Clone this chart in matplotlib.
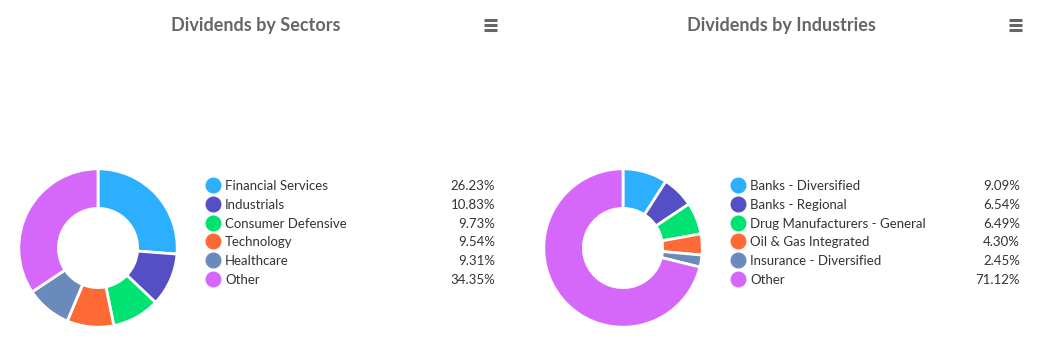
import matplotlib.pyplot as plt
from matplotlib.lines import Line2D

W, H = 1043, 358

sector_labels = ["Financial Services", "Industrials", "Consumer Defensive",
                 "Technology", "Healthcare", "Other"]
sector_values = [26.23, 10.83, 9.73, 9.54, 9.31, 34.35]

industry_labels = ["Banks - Diversified", "Banks - Regional",
                   "Drug Manufacturers - General", "Oil & Gas Integrated",
                   "Insurance - Diversified", "Other"]
industry_values = [9.09, 6.54, 6.49, 4.30, 2.45, 71.12]

colors = ["#2caffe", "#544fc5", "#00e272", "#fe6a35", "#6b8abc", "#d568fb"]

plt.rcParams['font.family'] = ['Lato', 'DejaVu Sans']

fig = plt.figure(figsize=(W / 100, H / 100), dpi=100)


def fx(x):
    return x / W


def fy(y):
    return 1 - y / H


def panel(x0, title, labels, values):
    # donut
    cx, cy, r = x0 + 98, 248, 80
    ax = fig.add_axes([fx(cx - r), fy(cy + r), 2 * r / W, 2 * r / H])
    ax.pie(values, colors=colors, startangle=90, counterclock=False,
           wedgeprops=dict(width=0.5, edgecolor="white", linewidth=2))
    ax.set_xlim(-1.01, 1.01)
    ax.set_ylim(-1.01, 1.01)
    ax.set_aspect("equal")
    ax.axis("off")

    # title and menu icon
    fig.text(fx(x0 + 256), fy(25.5), title, ha="center", va="center",
             fontsize=13, fontweight="bold", color="#666666")
    for dy in (-5, 0, 5):
        fig.add_artist(Line2D([fx(x0 + 484), fx(x0 + 497)],
                              [fy(25 + dy), fy(25 + dy)],
                              color="#666666", linewidth=2.2,
                              solid_capstyle="butt"))

    # legend
    for i, (lab, val) in enumerate(zip(labels, values)):
        y = 185 + i * 18.8
        fig.add_artist(Line2D([fx(x0 + 213)], [fy(y)], marker="o",
                              markersize=10.5, color=colors[i],
                              linestyle="none"))
        fig.text(fx(x0 + 225), fy(y + 1), lab, ha="left", va="center",
                 fontsize=9.5, color="#333333")
        fig.text(fx(x0 + 495), fy(y + 1), f"{val:.2f}%", ha="right",
                 va="center", fontsize=9.5, color="#333333")


panel(0, "Dividends by Sectors", sector_labels, sector_values)
panel(525, "Dividends by Industries", industry_labels, industry_values)

fig.savefig("out.png", dpi=100, facecolor="white")
